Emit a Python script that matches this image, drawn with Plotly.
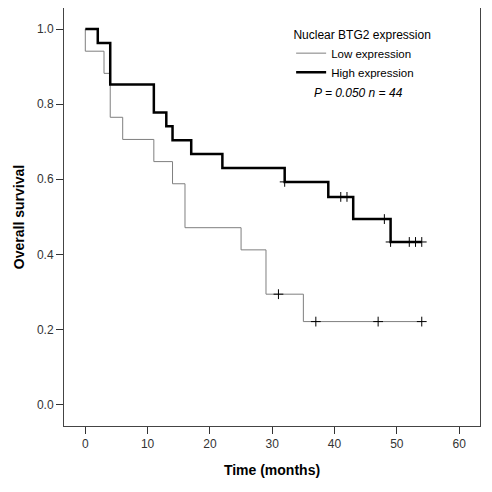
import numpy as np
import plotly.graph_objects as go

# Kaplan-Meier step data
low_times = [0, 0, 3, 4, 6, 11, 14, 16, 25, 29, 35, 54]
low_surv = [1.0, 0.941, 0.882, 0.765, 0.706, 0.647, 0.588, 0.471, 0.412, 0.294, 0.221, 0.221]
low_censor = [31, 37, 47, 54]

high_times = [0, 2, 4, 11, 13, 14, 17, 22, 32, 39, 43, 49, 54]
high_surv = [1.0, 0.963, 0.852, 0.778, 0.741, 0.704, 0.667, 0.630, 0.593, 0.553, 0.494, 0.433, 0.433]
high_censor = [32, 41, 42, 48, 49, 52, 53, 54]

x_ticks = [0, 10, 20, 30, 40, 50, 60]
y_ticks = [0.0, 0.2, 0.4, 0.6, 0.8, 1.0]


def step_value(times, surv, t):
    idx = 0
    for i, tt in enumerate(times):
        if tt <= t:
            idx = i
    return surv[idx]


fig = go.Figure()

fig.add_trace(go.Scatter(
    x=low_times, y=low_surv, mode="lines", line_shape="hv",
    line=dict(color="#7f7f7f", width=1), name="Low expression",
))
fig.add_trace(go.Scatter(
    x=high_times, y=high_surv, mode="lines", line_shape="hv",
    line=dict(color="#000000", width=2.5), name="High expression",
))
fig.add_trace(go.Scatter(
    x=low_censor, y=[step_value(low_times, low_surv, t) for t in low_censor],
    mode="markers", showlegend=False,
    marker=dict(symbol="cross-thin", size=7, line=dict(color="#000000", width=1)),
))
fig.add_trace(go.Scatter(
    x=high_censor, y=[step_value(high_times, high_surv, t) for t in high_censor],
    mode="markers", showlegend=False,
    marker=dict(symbol="cross-thin", size=7, line=dict(color="#000000", width=1)),
))

axis_font = dict(family="Liberation Sans, Arial, sans-serif", size=12, color="#333333")
title_font = dict(family="Liberation Sans, Arial, sans-serif", size=14, color="#000000")

# The page body has an 8px margin, so the figure is sized to fit inside it.
fig.update_layout(
    width=484, height=484,
    margin=dict(l=56, r=12, t=0, b=66),
    paper_bgcolor="white", plot_bgcolor="white",
    font=dict(family="Liberation Sans, Arial, sans-serif", color="#000000"),
    xaxis=dict(
        range=[-3.42, 63.35], tickvals=x_ticks, ticks="outside", ticklen=7,
        tickcolor="#333333", showgrid=False, zeroline=False, automargin=False,
        showline=True, mirror=True, linecolor="#444444", linewidth=1,
        tickfont=axis_font,
        title=dict(text="<b>Time (months)</b>", font=title_font, standoff=14),
    ),
    yaxis=dict(
        range=[-0.057, 1.056], tickvals=y_ticks, tickformat=".1f",
        ticks="outside", ticklen=7, tickcolor="#333333", automargin=False,
        showgrid=False, zeroline=False,
        showline=True, mirror=True, linecolor="#444444", linewidth=1,
        tickfont=axis_font,
        title=dict(text="<b>Overall survival</b>", font=title_font, standoff=9),
    ),
    legend=dict(
        x=0.546, y=0.964, xanchor="left", yanchor="top",
        bgcolor="rgba(0,0,0,0)", borderwidth=0,
        font=dict(family="Liberation Sans, Arial, sans-serif", size=11.5, color="#000000"),
        title=dict(text="Nuclear BTG2 expression", side="top center",
                   font=dict(family="Liberation Sans, Arial, sans-serif", size=12, color="#000000")),
        itemwidth=30, tracegroupgap=0,
    ),
    annotations=[dict(
        xref="paper", yref="paper", x=0.707, y=0.7965,
        xanchor="center", yanchor="middle", showarrow=False,
        text="<i>P</i><i> = 0.050 n = 44</i>",
        font=dict(family="Liberation Sans, Arial, sans-serif", size=12, color="#000000"),
    )],
)

fig.write_html("out.html")
